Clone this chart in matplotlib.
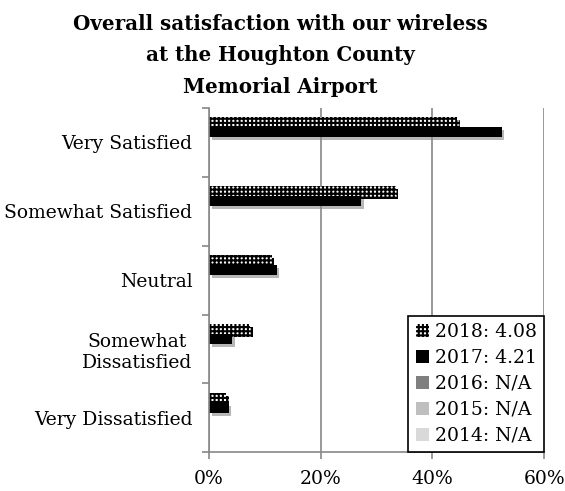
import numpy as np
import matplotlib.pyplot as plt
import matplotlib.patheffects as pe
from matplotlib.ticker import PercentFormatter

plt.rcParams['font.family'] = 'serif'
plt.rcParams['font.serif'] = ['DejaVu Serif']
plt.rcParams['hatch.linewidth'] = 1.5
plt.rcParams['hatch.color'] = 'black'

# datos
categorias = ['Very Satisfied', 'Somewhat Satisfied', 'Neutral',
              'Somewhat\nDissatisfied', 'Very Dissatisfied']
series = ['2018: 4.08', '2017: 4.21', '2016: N/A', '2015: N/A', '2014: N/A']
v2018 = [0.444, 0.334, 0.112, 0.073, 0.030]
v2017 = [0.524, 0.272, 0.121, 0.041, 0.035]
v2016 = [0, 0, 0, 0, 0]
v2015 = [0, 0, 0, 0, 0]
v2014 = [0, 0, 0, 0, 0]
valores = [v2018, v2017, v2016, v2015, v2014]
colores = ['white', 'black', '#7f7f7f', '#bfbfbf', '#d9d9d9']

fig = plt.figure(figsize=(5.65, 4.91), dpi=100)
ax = fig.add_axes([0.370, 0.079, 0.593, 0.701])

y = np.arange(len(categorias))
h = 0.145
sombra = [pe.SimplePatchShadow(offset=(2, -2), shadow_rgbFace='#888888', alpha=0.6), pe.Normal()]
for k, (nombre, vals, col) in enumerate(zip(series, valores, colores)):
    pos = y - 0.5 + 0.1375 + h * (k + 0.5)
    if k == 0:
        bars = ax.barh(pos, vals, height=h, facecolor='white', edgecolor='black', hatch='++++',
                       linewidth=0, label=nombre)
    else:
        bars = ax.barh(pos, vals, height=h, color=col, linewidth=0, label=nombre)
    for b in bars:
        if b.get_width() > 0:
            b.set_path_effects(sombra)

ax.set_xlim(0, 0.6)
ax.set_ylim(4.5, -0.5)
ax.set_xticks([0, 0.2, 0.4, 0.6])
ax.xaxis.set_major_formatter(PercentFormatter(1.0, decimals=0))
ax.set_yticks(np.arange(-0.5, 5, 1))
ax.set_yticklabels([])
ax.set_yticks(y, minor=True)
ax.set_yticklabels(categorias, minor=True, fontsize=13.5)
for lbl in ax.get_yticklabels(minor=True):
    lbl.set_multialignment('center')
ax.tick_params(axis='y', which='minor', length=0, pad=12)
ax.tick_params(axis='y', which='major', length=5, color='#888888', width=1.2)
ax.tick_params(axis='x', length=5, color='#888888', width=1.2, labelsize=13.5, pad=8)
ax.grid(axis='x', color='#888888', linewidth=1.2)
ax.set_axisbelow(True)
for s in ['top', 'right']:
    ax.spines[s].set_visible(False)
for s in ['left', 'bottom']:
    ax.spines[s].set_color('#888888')
    ax.spines[s].set_linewidth(1.2)

leg = ax.legend(loc='lower right', borderaxespad=0, fontsize=13.5, fancybox=False,
                framealpha=1, edgecolor='black', handlelength=0.7, handleheight=0.7,
                handletextpad=0.3, labelspacing=0.42, borderpad=0.4)
leg.get_frame().set_linewidth(1.2)
for hnd in leg.legend_handles:
    hnd.set_path_effects([])

fig.text(0.496, 0.972, 'Overall satisfaction with our wireless\nat the Houghton County\nMemorial Airport',
         ha='center', va='top', fontsize=14.3, fontweight='bold', linespacing=1.72)

plt.savefig('out.png', dpi=100)
